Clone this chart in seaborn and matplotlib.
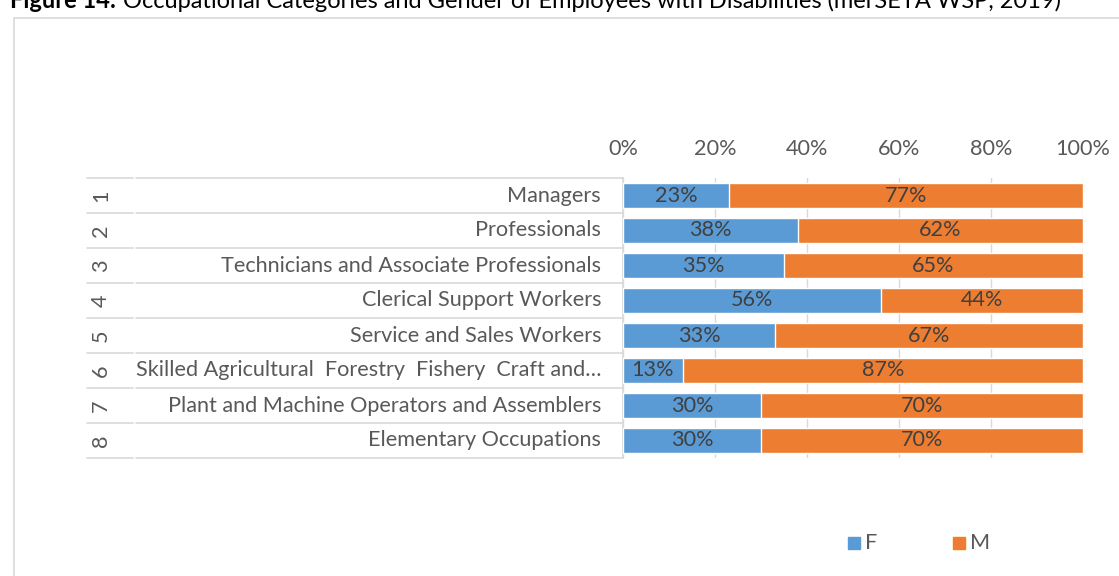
import matplotlib
matplotlib.use("Agg")
import matplotlib.pyplot as plt
import seaborn as sns
import pandas as pd
from matplotlib.patches import Rectangle
from matplotlib.lines import Line2D

codes = ["1", "2", "3", "4", "5", "6", "7", "8"]
categories = ["Managers", "Professionals", "Technicians and Associate Professionals",
              "Clerical Support Workers", "Service and Sales Workers",
              "Skilled Agricultural  Forestry  Fishery  Craft and\u2026",
              "Plant and Machine Operators and Assemblers", "Elementary Occupations"]
female = [23, 38, 35, 56, 33, 13, 30, 30]
male = [77, 62, 65, 44, 67, 87, 70, 70]
xticks = [0, 20, 40, 60, 80, 100]

sns.set_theme(style="white")
FONT = ["Lato", "DejaVu Sans"]
plt.rcParams["font.family"] = FONT

W, H = 1119, 576
fig = plt.figure(figsize=(W / 100, H / 100), dpi=100)

def fx(px):
    return px / W

def fy(py):
    return 1 - py / H

FS = 15.6
GREY = "#595959"

# outer frame
fig.patches.append(Rectangle((fx(14), fy(600)), fx(1200), fy(18) - fy(600),
                             transform=fig.transFigure, fill=False,
                             edgecolor="#D9D9D9", lw=1.2))

# title (clipped at top as in the reference)
t1 = fig.text(fx(10), fy(8), "Figure 14:", fontsize=17, fontweight="bold",
              color="black", va="baseline", ha="left")
fig.canvas.draw()
bb = t1.get_window_extent(renderer=fig.canvas.get_renderer())
fig.text(bb.x1 / W + fx(7), fy(8),
         "Occupational Categories and Gender of Employees with Disabilities (merSETA WSP, 2019)",
         fontsize=17, color="black", va="baseline", ha="left")

left, right, top, bottom = 623, 1083, 178, 458
ax = fig.add_axes([fx(left), fy(bottom), fx(right - left), fy(top) - fy(bottom)])

df = pd.DataFrame({"cat": categories, "F": female, "M": male})
df["total"] = df["F"] + df["M"]

sns.barplot(data=df, y="cat", x="total", color="#ED7D31", orient="h",
            width=0.7, ax=ax, saturation=1, zorder=3)
sns.barplot(data=df, y="cat", x="F", color="#5B9BD5", orient="h",
            width=0.7, ax=ax, saturation=1, zorder=3)

ax.set_xlim(0, 100)
ax.set_ylim(len(categories) - 0.5, -0.5)
ax.set_xticks(xticks)
ax.set_xticklabels([f"{t}%" for t in xticks], fontsize=FS, color=GREY)
ax.xaxis.tick_top()
ax.tick_params(axis="x", length=0, pad=13.5)
ax.set_xlabel("")
ax.set_ylabel("")
ax.set_yticks([])
for s in ["top", "right", "bottom"]:
    ax.spines[s].set_visible(False)
ax.spines["left"].set_color("#D9D9D9")
ax.spines["left"].set_linewidth(1.2)
ax.grid(axis="x", color="#D9D9D9", lw=1, zorder=0)

# value labels
for i, (f, m) in enumerate(zip(female, male)):
    ax.text(f / 2, i, f"{f}%", ha="center", va="center", fontsize=FS,
            color="#404040", zorder=5)
    ax.text(f + m / 2, i, f"{m}%", ha="center", va="center", fontsize=FS,
            color="#404040", zorder=5)

# multi-level category table
n = len(categories)
row_h = (bottom - top) / n
for k in range(n + 1):
    y = fy(top + k * row_h)
    fig.add_artist(Line2D([fx(87), fx(133)], [y, y], transform=fig.transFigure,
                          color="#D9D9D9", lw=1.2))
    fig.add_artist(Line2D([fx(136), fx(left)], [y, y], transform=fig.transFigure,
                          color="#D9D9D9", lw=1.2))
for k in range(n):
    yc = fy(top + (k + 0.5) * row_h)
    fig.text(fx(101), yc, codes[k], rotation=90, ha="center", va="center",
             fontsize=FS, color=GREY)
    fig.text(fx(601), yc, categories[k], ha="right", va="center",
             fontsize=FS, color=GREY)

# legend
for xpx, lab, col in [(848, "F", "#5B9BD5"), (953, "M", "#ED7D31")]:
    fig.patches.append(Rectangle((fx(xpx), fy(549)), fx(12), fy(537) - fy(549),
                                 transform=fig.transFigure, color=col))
    fig.text(fx(xpx + 17), fy(543), lab, ha="left", va="center", fontsize=FS,
             color=GREY)

fig.savefig("out.png", dpi=100)
